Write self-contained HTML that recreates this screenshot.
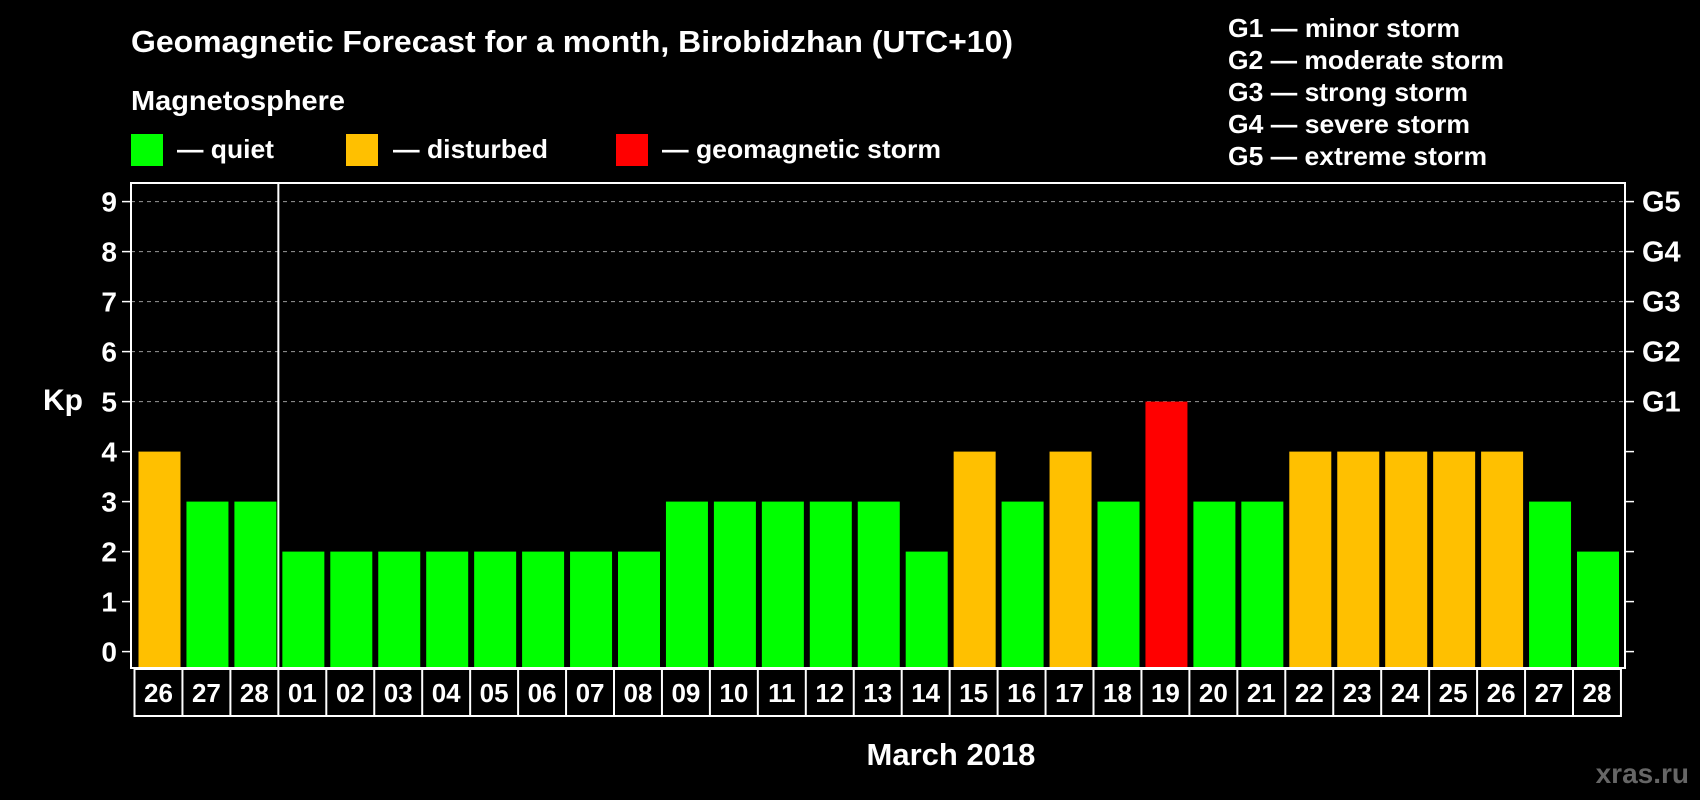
<!DOCTYPE html>
<html><head><meta charset="utf-8"><style>
html,body{margin:0;padding:0;background:#000;}
svg{display:block;font-family:"Liberation Sans",Arial,sans-serif;font-weight:bold;}
</style></head><body>
<svg id="chart" width="1700" height="800" viewBox="0 0 1700 800">
<rect x="0" y="0" width="1700" height="800" fill="#000"/>
<text x="131" y="52" fill="#fff" font-size="31" textLength="882" lengthAdjust="spacingAndGlyphs">Geomagnetic Forecast for a month, Birobidzhan (UTC+10)</text>
<text x="131" y="110" fill="#fff" font-size="28" textLength="214" lengthAdjust="spacingAndGlyphs">Magnetosphere</text>
<g>
<rect x="131" y="134" width="32" height="32" fill="#00ff00"/>
<text x="177" y="158" fill="#fff" font-size="26" textLength="97" lengthAdjust="spacingAndGlyphs">— quiet</text></g>
<g>
<rect x="346" y="134" width="32" height="32" fill="#ffc000"/>
<text x="393" y="158" fill="#fff" font-size="26" textLength="155" lengthAdjust="spacingAndGlyphs">— disturbed</text></g>
<g>
<rect x="616" y="134" width="32" height="32" fill="#ff0000"/>
<text x="662" y="158" fill="#fff" font-size="26" textLength="279" lengthAdjust="spacingAndGlyphs">— geomagnetic storm</text></g>
<g font-size="26" fill="#fff">
<text x="1228" y="37" textLength="232" lengthAdjust="spacingAndGlyphs">G1 — minor storm</text>
<text x="1228" y="69" textLength="276" lengthAdjust="spacingAndGlyphs">G2 — moderate storm</text>
<text x="1228" y="101" textLength="240" lengthAdjust="spacingAndGlyphs">G3 — strong storm</text>
<text x="1228" y="133" textLength="242" lengthAdjust="spacingAndGlyphs">G4 — severe storm</text>
<text x="1228" y="165" textLength="259" lengthAdjust="spacingAndGlyphs">G5 — extreme storm</text>
</g>
<g id="grid"></g>
<g id="bars"></g>
<g id="axes"></g>
<g id="xlabels"></g>
<text x="43" y="410" fill="#fff" font-size="30">Kp</text>
<text x="951" y="765" fill="#fff" font-size="31" text-anchor="middle">March 2018</text>
<text x="1689" y="783" fill="#666" font-size="28" text-anchor="end">xras.ru</text>
</svg>
<script>
const days = ["26","27","28","01","02","03","04","05","06","07","08","09","10","11","12","13","14","15","16","17","18","19","20","21","22","23","24","25","26","27","28"];
const kpValues = [4,3,3,2,2,2,2,2,2,2,2,3,3,3,3,3,2,4,3,4,3,5,3,3,4,4,4,4,4,3,2];
const yTicks = [0,1,2,3,4,5,6,7,8,9];
const gLabels = ["G1","G2","G3","G4","G5"];
const gLevels = [5,6,7,8,9];

const NS = "http://www.w3.org/2000/svg";
const L = 131, R = 1625, T = 183, B = 668;
const y0 = 651.6, unit = 50;
const x0 = 134.5, pitch = 47.95;
function yS(v){ return y0 - v*unit; }
function xS(i){ return x0 + i*pitch; }
function mk(tag, attrs, parent){ const e = document.createElementNS(NS, tag); for (const k in attrs) e.setAttribute(k, attrs[k]); parent.appendChild(e); return e; }
function color(v){ return v >= 5 ? "#ff0000" : (v >= 4 ? "#ffc000" : "#00ff00"); }

const grid = document.getElementById("grid");
gLevels.forEach(v => {
  const l = mk("line", {x1:L, x2:R, y1:yS(v), y2:yS(v), stroke:"#999", "stroke-width":1, "stroke-dasharray":"4,4"}, grid);
  
  
});

const bars = document.getElementById("bars");
kpValues.forEach((v, i) => {
  const r = mk("rect", {x:xS(i)+4, y:yS(v), width:42, height:B - yS(v), fill:color(v)}, bars);
  
  
});

const axes = document.getElementById("axes");
const frame = mk("rect", {x:L, y:T, width:R-L, height:B-T, fill:"none", stroke:"#fff", "stroke-width":2}, axes);


const sep = mk("line", {x1:xS(3), x2:xS(3), y1:T, y2:B, stroke:"#fff", "stroke-width":2}, axes);


yTicks.forEach(v => {
  const t1 = mk("line", {x1:L-9, x2:L, y1:yS(v), y2:yS(v), stroke:"#fff", "stroke-width":1.5}, axes);
  
  
  const t2 = mk("line", {x1:R, x2:R+9, y1:yS(v), y2:yS(v), stroke:"#fff", "stroke-width":1.5}, axes);
  
  
  const tx = mk("text", {x:117, y:yS(v)+10, fill:"#fff", "font-size":28, "text-anchor":"end"}, axes);
  tx.textContent = v;
  
  
});
gLabels.forEach((g, i) => {
  const tx = mk("text", {x:1642, y:yS(gLevels[i])+10, fill:"#fff", "font-size":29}, axes);
  tx.textContent = g;
  
  
});

const xl = document.getElementById("xlabels");
const boxTop = 669, boxBot = 716;
const lb = mk("rect", {x:x0, y:boxTop, width:days.length*pitch, height:boxBot-boxTop, fill:"none", stroke:"#fff", "stroke-width":2}, xl);


days.forEach((d, i) => {
  if (i > 0) {
    const dv = mk("line", {x1:xS(i), x2:xS(i), y1:boxTop, y2:boxBot, stroke:"#fff", "stroke-width":2}, xl);
    
    
  }
  const tx = mk("text", {x:xS(i)+pitch/2, y:702, fill:"#fff", "font-size":26, "text-anchor":"middle"}, xl);
  tx.textContent = d;
  
  
});
</script>
</body></html>
